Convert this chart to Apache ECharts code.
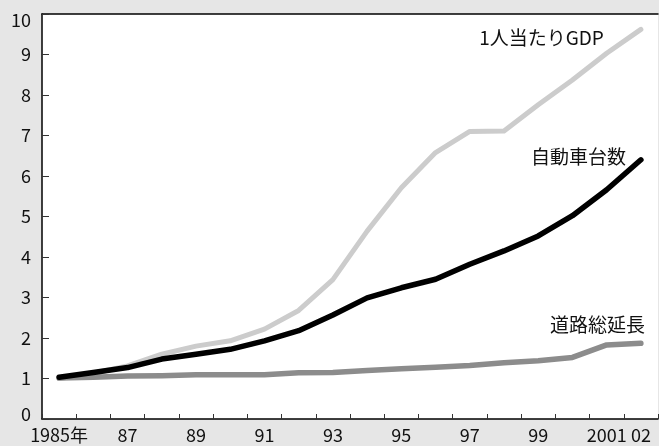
<!DOCTYPE html>
<html>
<head>
<meta charset="utf-8">
<script src="https://cdn.jsdelivr.net/npm/echarts@6/dist/echarts.min.js"></script>
<style>
  html, body { margin: 0; padding: 0; background: #e6e6e6; }
  #chart { width: 659px; height: 446px; }
</style>
</head>
<body>
<div id="chart"></div>
<script>
// Years 1985–2002, index 1985 = 1
const years = ['1985','1986','1987','1988','1989','1990','1991','1992','1993',
               '1994','1995','1996','1997','1998','1999','2000','2001','2002'];
const yearLabels = ['1985年','','87','','89','','91','','93','','95','','97','','99','','2001','02'];

const gdpPerCapita = [1.00, 1.13, 1.31, 1.60, 1.80, 1.93, 2.22, 2.68, 3.44, 4.64, 5.71, 6.58, 7.10, 7.11, 7.76, 8.37, 9.03, 9.62];
const vehicles     = [1.03, 1.15, 1.27, 1.48, 1.60, 1.72, 1.93, 2.18, 2.57, 2.99, 3.24, 3.45, 3.82, 4.15, 4.52, 5.02, 5.66, 6.40];
const roadLength   = [1.01, 1.03, 1.06, 1.07, 1.09, 1.09, 1.09, 1.14, 1.15, 1.20, 1.24, 1.28, 1.32, 1.39, 1.44, 1.52, 1.83, 1.87];

const FONT = '"Noto Sans CJK JP", "Noto Sans", sans-serif';

// last point carries the series name as its label
function withEndLabel(values, label) {
  return values.map((v, i) => i === values.length - 1
    ? { value: v, label: Object.assign({ show: true, formatter: '{a}', color: '#111',
                                          fontSize: 19, fontFamily: FONT }, label) }
    : v);
}

const chart = echarts.init(document.getElementById('chart'), null, { renderer: 'canvas' });
chart.setOption({
  backgroundColor: '#e6e6e6',
  animation: false,
  grid: { left: 42, right: 1, top: 14, bottom: 27, show: true, backgroundColor: '#ffffff', borderWidth: 0 },
  xAxis: [{
    type: 'category',
    data: years,
    boundaryGap: true,
    axisLine: { show: true, lineStyle: { color: '#000', width: 1.5 } },
    axisTick: { show: true, inside: true, length: 5, interval: 0, lineStyle: { color: '#333', width: 1 } },
    axisLabel: {
      interval: 0, margin: 7, color: '#111', fontSize: 18, fontFamily: FONT,
      formatter: (v, i) => yearLabels[i]
    },
    splitLine: { show: false }
  }, {
    type: 'category',
    data: years,
    position: 'top',
    axisLine: { show: true, lineStyle: { color: '#000', width: 1.5 } },
    axisTick: { show: false },
    axisLabel: { show: false }
  }],
  yAxis: {
    type: 'value',
    min: 0, max: 10, interval: 1,
    axisLine: { show: true, lineStyle: { color: '#000', width: 1.5 } },
    axisTick: { show: true, inside: true, length: 7, lineStyle: { color: '#333', width: 1 } },
    axisLabel: {
      margin: 11, color: '#111', fontSize: 18, fontFamily: FONT,
      formatter: v => v === 10 ? '{top|10}' : (v === 0 ? '{bot|0}' : String(v)),
      rich: {
        top: { fontSize: 18, fontFamily: FONT, color: '#111', padding: [12, 0, 0, 0] },
        bot: { fontSize: 18, fontFamily: FONT, color: '#111', padding: [0, 0, 9, 0] }
      }
    },
    splitLine: { show: false }
  },
  series: [
    {
      name: '1人当たりGDP', type: 'line',
      data: withEndLabel(gdpPerCapita, { position: 'left', distance: 5, offset: [-32, 8] }),
      symbol: 'circle', symbolSize: 0, showSymbol: true,
      lineStyle: { color: '#cccccc', width: 5, cap: 'round', join: 'round' },
      itemStyle: { color: '#cccccc' }, z: 2
    },
    {
      name: '道路総延長', type: 'line',
      data: withEndLabel(roadLength, { position: 'left', distance: 0, offset: [4, -18] }),
      symbol: 'circle', symbolSize: 0, showSymbol: true,
      lineStyle: { color: '#8c8c8c', width: 5.5, cap: 'round', join: 'round' },
      itemStyle: { color: '#8c8c8c' }, z: 3
    },
    {
      name: '自動車台数', type: 'line',
      data: withEndLabel(vehicles, { position: 'left', distance: 15, offset: [0, -3] }),
      symbol: 'circle', symbolSize: 0, showSymbol: true,
      lineStyle: { color: '#000000', width: 5.5, cap: 'round', join: 'round' },
      itemStyle: { color: '#000000' }, z: 4
    }
  ]
});
</script>
</body>
</html>
